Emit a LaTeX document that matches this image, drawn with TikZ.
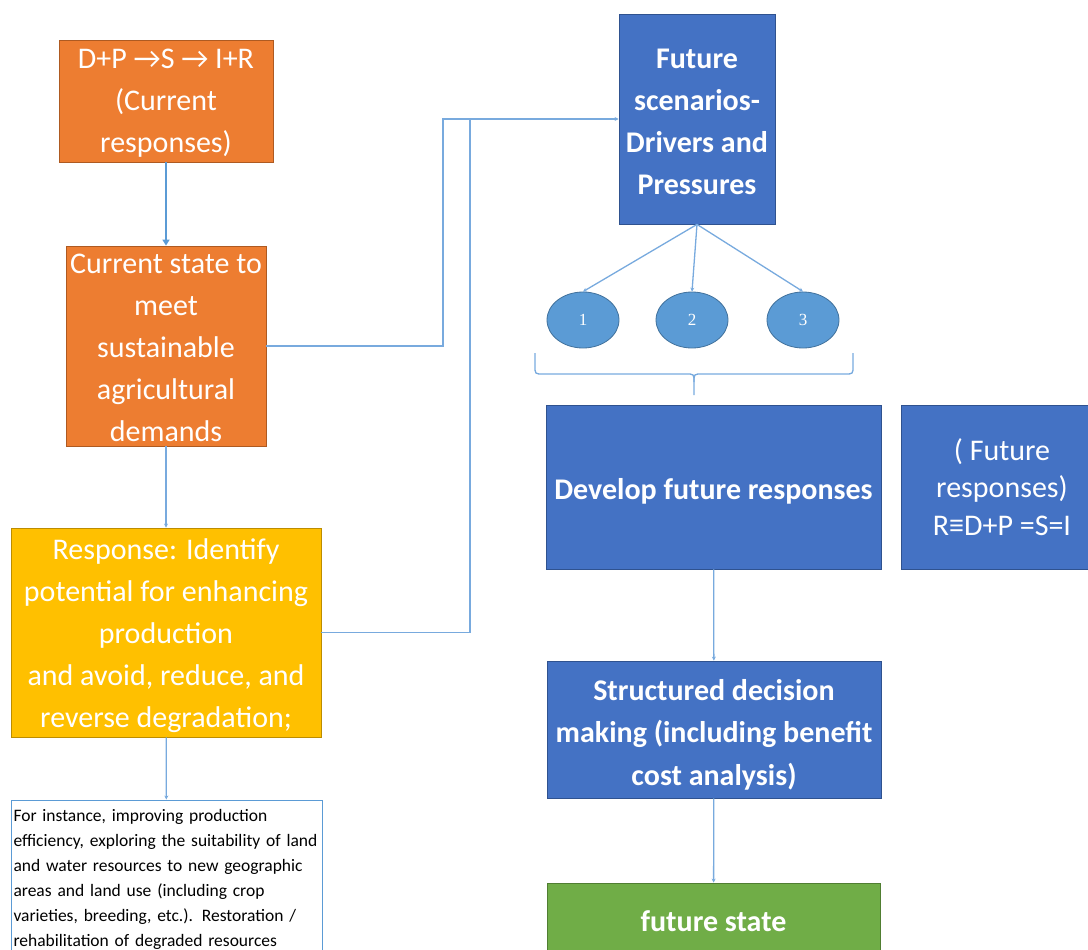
\documentclass[tikz,border=0pt]{standalone}
\usepackage{fontspec}
\setmainfont{Carlito}
\newfontfamily\numfont{Liberation Serif}
\usetikzlibrary{arrows.meta,shapes.geometric}

\definecolor{orangefill}{HTML}{ED7D31}
\definecolor{orangeline}{HTML}{AE5A21}
\definecolor{yellowfill}{HTML}{FFC000}
\definecolor{yellowline}{HTML}{BC8C00}
\definecolor{bluefill}{HTML}{4472C4}
\definecolor{blueline}{HTML}{2F528F}
\definecolor{greenfill}{HTML}{70AD47}
\definecolor{greenline}{HTML}{507E32}
\definecolor{scenfill}{HTML}{5B9BD5}
\definecolor{scenline}{HTML}{41719C}
\definecolor{connblue}{RGB}{120,170,222}
\definecolor{darkconn}{HTML}{5B9BD5}

% invisible strut that gives the first line of a box some extra room on top
\newcommand\headroom[1]{\rule{0pt}{#1pt}}

\tikzset{
  box/.style={draw, line width=0.8pt, text=white, align=center, inner sep=0pt,
    font=\fontsize{30}{42}\selectfont},
  boldbox/.style={box, font=\fontsize{30}{42}\selectfont\bfseries},
  orangebox/.style={fill=orangefill, draw=orangeline},
  yellowbox/.style={fill=yellowfill, draw=yellowline},
  bluebox/.style={fill=bluefill, draw=blueline},
  greenbox/.style={fill=greenfill, draw=greenline},
  notebox/.style={draw=darkconn, line width=0.9pt, fill=white, text=black,
    align=left, inner xsep=2.5pt, inner ysep=0pt,
    font=\fontsize{17.5}{25}\selectfont},
  scen/.style={ellipse, draw=scenline, line width=0.8pt, fill=scenfill,
    text=white, inner sep=0pt, font=\numfont\fontsize{17}{18}\selectfont},
  conn/.style={draw=connblue, line width=1.3pt},
  tip/.style={-{Stealth[length=4pt,width=4pt]}},
  bigtip/.style={-{Triangle[length=6pt,width=7pt]}},
}

\begin{document}
\begin{tikzpicture}[x=1pt,y=-1pt]
\useasboundingbox (0,0) rectangle (1088,950);

% left column: current situation
\node[box, orangebox, minimum width=214, minimum height=122] (cur) at (166,101)
  {\headroom{24.5}D+P →S → I+R\\(Current\\responses)};
\node[box, orangebox, minimum width=200, minimum height=200] (state) at (166,346)
  {\headroom{24}Current state to\\meet\\sustainable\\agricultural\\demands};
\node[box, yellowbox, minimum width=310, minimum height=209] (resp) at (166,632.5)
  {\headroom{27.5}Response: Identify\\potential for enhancing\\production\\and avoid, reduce, and\\reverse degradation;};
\node[notebox, minimum width=311, minimum height=156, text width=306] (note) at (166.5,878)
  {\headroom{15.5}For instance, improving production\\efficiency, exploring the suitability of land\\and water resources to new geographic\\areas and land use (including crop\\varieties, breeding, etc.). Restoration /\\rehabilitation of degraded resources};

% right column: future situation
\node[boldbox, bluebox, minimum width=156, minimum height=210] (fut) at (697,119)
  {\headroom{25.5}Future\\scenarios-\\Drivers and\\Pressures};
\node[scen, minimum width=72, minimum height=56] (s1) at (583,320) {1};
\node[scen, minimum width=72, minimum height=56] (s2) at (692,320) {2};
\node[scen, minimum width=72, minimum height=56] (s3) at (803,320) {3};

\node[boldbox, bluebox, minimum width=335, minimum height=164] (dev) at (713.5,487)
  {\headroom{29.5}Develop future responses};
\node[box, bluebox, minimum width=202, minimum height=164,
  font=\fontsize{30}{37.5}\selectfont] (fresp) at (1002,487)
  {( Future\\responses)\\R≡D+P =S=I};
\node[boldbox, bluebox, minimum width=334, minimum height=137,
  font=\fontsize{30}{42.5}\selectfont\bfseries] (sdm) at (714,729.5)
  {\headroom{31}Structured decision\\making (including benefit\\cost analysis)};
\node[boldbox, greenbox, minimum width=333, minimum height=76] (fstate) at (713.5,921)
  {future state};

% brace grouping the scenarios
\draw[connblue, line width=1.3pt]
  (535,353) -- (535,366) .. controls (535,374) .. (543,374) -- (686,374)
  .. controls (694,374) .. (694,382) -- (694,395);
\draw[connblue, line width=1.3pt]
  (853,353) -- (853,366) .. controls (853,374) .. (845,374) -- (702,374)
  .. controls (694,374) .. (694,382);

% connectors
\draw[draw=darkconn, line width=2pt, bigtip] (cur) -- (state);
\draw[conn, tip] (state) -- (resp);
\draw[conn, tip] (resp) -- (note);
\draw[conn, tip] (state.east) -- (443,346) |- (fut.west);
\draw[conn] (resp.east) -| (470,119);
\draw[conn, tip] (fut.south) -- (s1.north);
\draw[conn, tip] (fut.south) -- (s2.north);
\draw[conn, tip] (fut.south) -- (s3.north);
\draw[conn, tip] (dev) -- (sdm);
\draw[conn, tip] (sdm) -- (fstate);
\end{tikzpicture}
\end{document}
